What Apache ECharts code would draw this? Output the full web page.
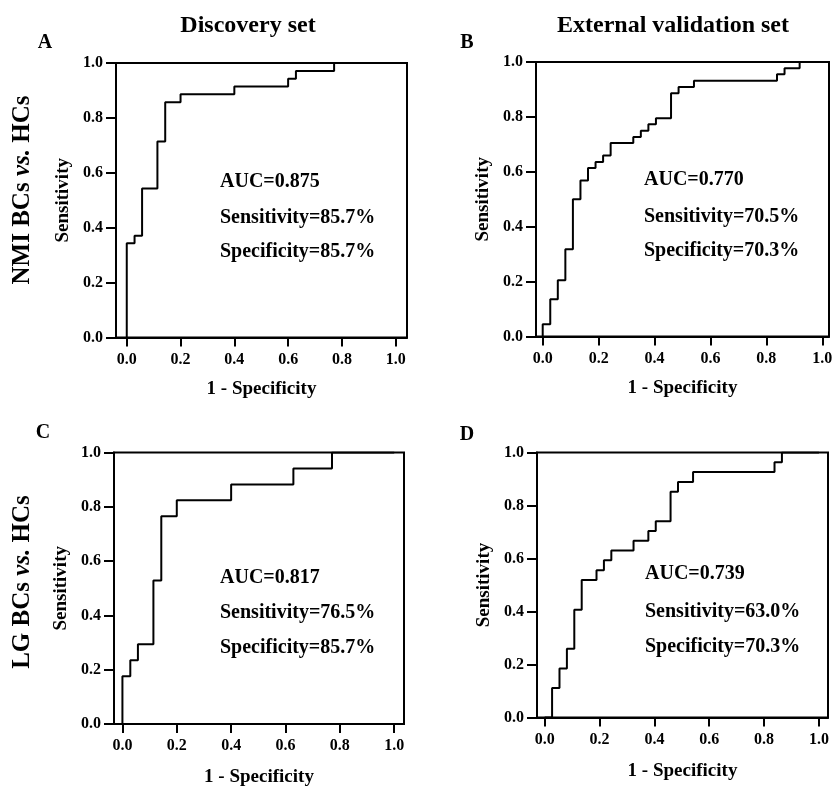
<!DOCTYPE html>
<html>
<head>
<meta charset="utf-8">
<script src="https://cdn.jsdelivr.net/npm/echarts@6/dist/echarts.min.js"></script>
<style>
  html, body { margin: 0; padding: 0; background: #fff; }
  #chart { width: 835px; height: 786px; }
</style>
</head>
<body>
<div id="chart"></div>
<script>
// ROC curve corners (1 - specificity, sensitivity)
const fprA = [0, 0, 0.029, 0.057, 0.114, 0.143, 0.2, 0.4, 0.6, 0.629, 0.771, 1.0];
const tprA = [0, 0.343, 0.371, 0.543, 0.714, 0.857, 0.886, 0.914, 0.943, 0.971, 1.0, 1.0];

const fprB = [0, 0, 0.027, 0.054, 0.081, 0.108, 0.135, 0.162, 0.189, 0.216, 0.243, 0.324, 0.351, 0.378, 0.405, 0.459, 0.486, 0.541, 0.838, 0.865, 0.919, 1.0];
const tprB = [0, 0.045, 0.136, 0.205, 0.318, 0.5, 0.568, 0.614, 0.636, 0.659, 0.705, 0.727, 0.75, 0.773, 0.795, 0.886, 0.909, 0.932, 0.955, 0.977, 1.0, 1.0];

const fprC = [0, 0, 0.029, 0.057, 0.114, 0.143, 0.2, 0.4, 0.629, 0.771, 1.0];
const tprC = [0, 0.176, 0.235, 0.294, 0.529, 0.765, 0.824, 0.882, 0.941, 1.0, 1.0];

const fprD = [0, 0.027, 0.054, 0.081, 0.108, 0.135, 0.189, 0.216, 0.243, 0.324, 0.378, 0.405, 0.459, 0.486, 0.541, 0.838, 0.865, 1.0];
const tprD = [0, 0.111, 0.185, 0.259, 0.407, 0.519, 0.556, 0.593, 0.630, 0.667, 0.704, 0.741, 0.852, 0.889, 0.926, 0.963, 1.0, 1.0];

const xTicks = [0, 0.2, 0.4, 0.6, 0.8, 1.0];
const columnTitles = ["Discovery set", "External validation set"];
const panelLetters = ["A", "B", "C", "D"];
const aucText = ["AUC=0.875", "AUC=0.770", "AUC=0.817", "AUC=0.739"];
const sensText = ["Sensitivity=85.7%", "Sensitivity=70.5%", "Sensitivity=76.5%", "Sensitivity=63.0%"];
const specText = ["Specificity=85.7%", "Specificity=70.3%", "Specificity=85.7%", "Specificity=70.3%"];

const FONT = '"Liberation Serif", "Times New Roman", serif';
const chart = echarts.init(document.getElementById("chart"));

// panel boxes in pixels and x-extent (the frame sits a bit outside 0..1)
const panels = [
  { left: 116, top: 63, width: 291, height: 274.5, xmin: -0.040, xmax: 1.042, nameGap: 42 },
  { left: 536, top: 62, width: 293, height: 274.5, xmin: -0.024, xmax: 1.024, nameGap: 42 },
  { left: 114, top: 452.5, width: 290, height: 271.5, xmin: -0.031, xmax: 1.036, nameGap: 44 },
  { left: 537, top: 452.5, width: 291, height: 265, xmin: -0.028, xmax: 1.033, nameGap: 44 }
];
const fprs = [fprA, fprB, fprC, fprD];
const tprs = [tprA, tprB, tprC, tprD];

const grid = panels.map(p => ({
  show: true, left: p.left, top: p.top, width: p.width, height: p.height,
  outerBoundsMode: "none", containLabel: false,
  borderColor: "#000", borderWidth: 2, backgroundColor: "transparent"
}));

const xAxis = panels.map((p, i) => ({
  type: "value", gridIndex: i, min: p.xmin, max: p.xmax,
  name: "1 - Specificity", nameLocation: "middle", nameGap: p.nameGap,
  nameTextStyle: { fontFamily: FONT, fontWeight: "bold", fontSize: 19, color: "#000" },
  axisLine: { show: true, onZero: false, lineStyle: { color: "#000", width: 2 } },
  axisTick: { show: true, inside: false, length: 9, customValues: xTicks, lineStyle: { color: "#000", width: 2 } },
  axisLabel: { show: true, customValues: xTicks, margin: 14, formatter: v => v.toFixed(1),
    fontFamily: FONT, fontWeight: "bold", fontSize: 16, color: "#000" },
  splitLine: { show: false }
}));

const yAxis = panels.map((p, i) => ({
  type: "value", gridIndex: i, min: 0, max: 1, interval: 0.2,
  name: "Sensitivity", nameLocation: "middle", nameGap: 43,
  nameTextStyle: { fontFamily: FONT, fontWeight: "bold", fontSize: 19, color: "#000" },
  axisLine: { show: true, onZero: false, lineStyle: { color: "#000", width: 2 } },
  axisTick: { show: true, inside: false, length: 10, lineStyle: { color: "#000", width: 2 } },
  axisLabel: { margin: 13, formatter: v => v.toFixed(1),
    fontFamily: FONT, fontWeight: "bold", fontSize: 16, color: "#000" },
  splitLine: { show: false }
}));

const series = fprs.map((f, i) => ({
  type: "line", xAxisIndex: i, yAxisIndex: i, step: "end",
  showSymbol: false, silent: true,
  lineStyle: { color: "#000", width: 2 },
  data: f.map((x, k) => [x, tprs[i][k]])
}));

function txt(text, x, y, size, opts) {
  return Object.assign({
    type: "text", x: x, y: y, silent: true,
    style: { text: text, font: "bold " + size + "px " + FONT, fill: "#000",
      textAlign: "center", textVerticalAlign: "middle" }
  }, opts || {});
}

const annoPos = [[220, 182, 218, 252], [644, 180, 217, 251], [220, 578, 613, 648], [645, 574, 612, 647]];
const letterPos = [[45, 43], [467, 43], [43, 433], [467, 435]];

const graphics = [
  txt(columnTitles[0], 248, 26, 24),
  txt(columnTitles[1], 673, 26, 24)
];
panelLetters.forEach((l, i) => graphics.push(txt(l, letterPos[i][0], letterPos[i][1], 20)));
annoPos.forEach((a, i) => {
  [aucText[i], sensText[i], specText[i]].forEach((t, k) => {
    const g = txt(t, a[0], a[k + 1], 20);
    g.style.textAlign = "left";
    graphics.push(g);
  });
});

function rowLabel(prefix, y) {
  return {
    type: "text", x: 23, y: y, rotation: Math.PI / 2, silent: true,
    style: {
      text: "{b|" + prefix + " }{i|vs.}{b| HCs}",
      textAlign: "center", textVerticalAlign: "middle", fill: "#000",
      rich: {
        b: { font: "bold 25px " + FONT, fill: "#000" },
        i: { font: "italic bold 25px " + FONT, fill: "#000" }
      }
    }
  };
}
graphics.push(rowLabel("NMI BCs", 190));
graphics.push(rowLabel("LG BCs", 582));

chart.setOption({
  backgroundColor: "#fff",
  animation: false,
  grid: grid,
  xAxis: xAxis,
  yAxis: yAxis,
  series: series,
  graphic: graphics
});
</script>
</body>
</html>
